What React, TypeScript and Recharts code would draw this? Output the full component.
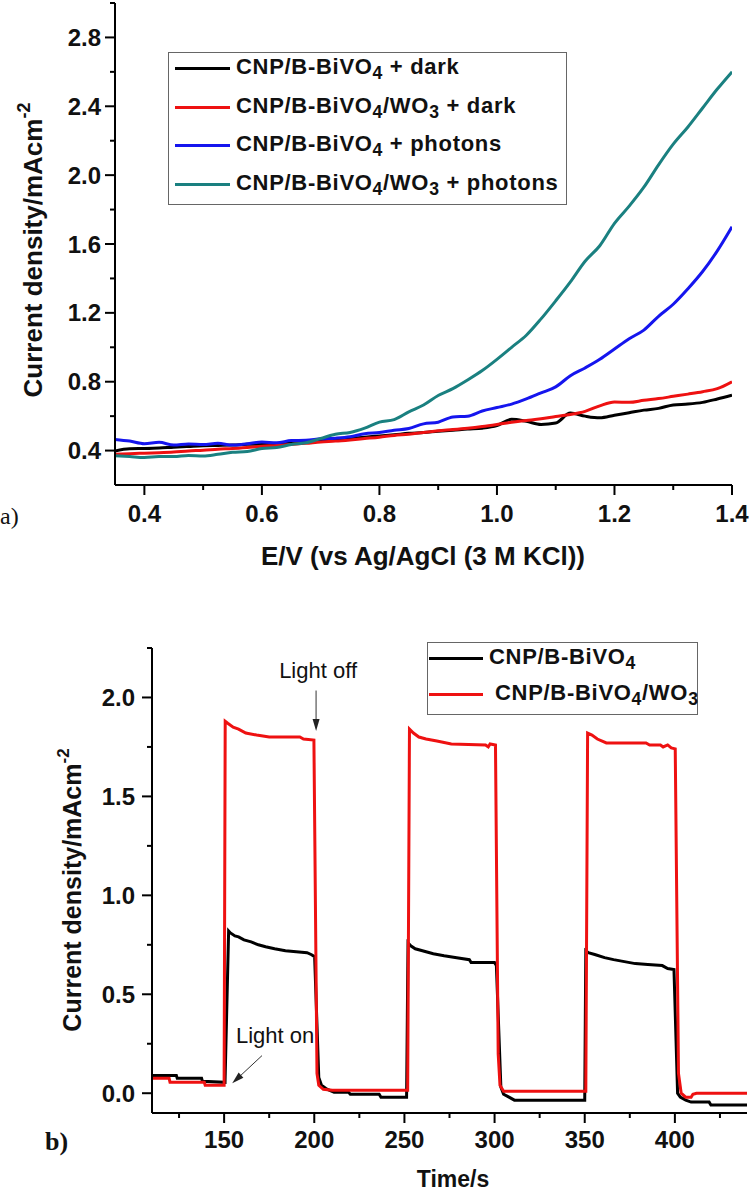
// Photoelectrochemistry figure: (a) LSV curves, (b) chopped-light transient photocurrent
import React from "react";
import { LineChart, Line, XAxis, YAxis, Legend, ReferenceLine } from "recharts";

const FONT = "'Liberation Sans', Arial, sans-serif";
const SERIF = "'Liberation Serif', 'Times New Roman', serif";

// ---- panel a: current density vs potential ----
const potential = [
  0.35, 0.375, 0.4, 0.425, 0.45, 0.475, 0.5, 0.525, 0.55, 0.575, 0.6, 0.625, 0.65, 0.675, 0.7,
  0.725, 0.75, 0.775, 0.8, 0.825, 0.85, 0.875, 0.9, 0.925, 0.95, 0.975, 1.0, 1.025, 1.05, 1.075,
  1.1, 1.125, 1.15, 1.175, 1.2, 1.225, 1.25, 1.275, 1.3, 1.325, 1.35, 1.375, 1.4,
];
const darkBiVO4 = [
  0.398, 0.41, 0.412, 0.415, 0.42, 0.424, 0.428, 0.43, 0.432, 0.436, 0.438, 0.44, 0.446, 0.452, 0.458,
  0.465, 0.47, 0.478, 0.485, 0.492, 0.5, 0.505, 0.512, 0.518, 0.525, 0.53, 0.545, 0.582, 0.57, 0.552,
  0.56, 0.618, 0.6, 0.59, 0.605, 0.62, 0.635, 0.645, 0.665, 0.67, 0.68, 0.7, 0.722,
];
const darkBiVO4WO3 = [
  0.378, 0.382, 0.385, 0.388, 0.392, 0.398, 0.402, 0.408, 0.412, 0.418, 0.425, 0.43, 0.436, 0.442, 0.45,
  0.455, 0.462, 0.47, 0.478, 0.488, 0.495, 0.505, 0.515, 0.522, 0.53, 0.54, 0.552, 0.565, 0.575, 0.585,
  0.598, 0.61, 0.628, 0.66, 0.682, 0.68, 0.692, 0.702, 0.715, 0.728, 0.742, 0.76, 0.8,
];
const lightBiVO4 = [
  0.465, 0.455, 0.44, 0.448, 0.432, 0.438, 0.435, 0.442, 0.432, 0.44, 0.45, 0.445, 0.458, 0.46, 0.468,
  0.472, 0.48, 0.498, 0.505, 0.518, 0.528, 0.555, 0.565, 0.595, 0.6, 0.63, 0.65, 0.67, 0.7, 0.735,
  0.77, 0.835, 0.88, 0.93, 0.99, 1.05, 1.1, 1.18, 1.25, 1.34, 1.44, 1.56, 1.7,
];
const lightBiVO4WO3 = [
  0.37, 0.365, 0.36, 0.365, 0.365, 0.372, 0.368, 0.378, 0.39, 0.395, 0.412, 0.418, 0.435, 0.445, 0.47,
  0.495, 0.505, 0.53, 0.565, 0.58, 0.625, 0.665, 0.72, 0.76, 0.81, 0.865, 0.93, 1.0, 1.07, 1.165,
  1.27, 1.38, 1.5, 1.59, 1.72, 1.82, 1.93, 2.06, 2.18, 2.28, 2.39, 2.5, 2.6,
];
const lsvNames = ["CNP/B-BiVO4 + dark", "CNP/B-BiVO4/WO3 + dark", "CNP/B-BiVO4 + photons", "CNP/B-BiVO4/WO3 + photons"];
const lsvXTicks = [0.4, 0.5, 0.6, 0.7, 0.8, 0.9, 1.0, 1.1, 1.2, 1.3, 1.4];
const lsvXMajor = [0.4, 0.6, 0.8, 1.0, 1.2, 1.4];
const lsvYTicks = [0.4, 0.6, 0.8, 1.0, 1.2, 1.4, 1.6, 1.8, 2.0, 2.2, 2.4, 2.6, 2.8, 3.0];
const lsvYMajor = [0.4, 0.8, 1.2, 1.6, 2.0, 2.4, 2.8];

// ---- panel b: transient photocurrent ----
const timeBiVO4 = [
  110, 123.5, 124, 137.5, 138, 150.5, 152.5, 153.5, 156, 158, 161, 165, 169, 173, 178, 184, 190, 196, 198.5, 200.2,
  202.5, 204, 207, 211, 219, 220, 236, 237, 251.2, 252, 253.5, 256, 260, 266, 272, 279, 286, 287, 300, 301,
  303.5, 305, 308, 311, 350, 350.6, 352, 356, 361, 366, 372, 378, 385, 393, 396, 399.5, 401.5, 403, 406, 409,
  419, 420, 440,
];
const currentBiVO4 = [
  0.09, 0.09, 0.075, 0.075, 0.06, 0.055, 0.82, 0.81, 0.795, 0.79, 0.775, 0.765, 0.75, 0.74, 0.73, 0.72, 0.715, 0.71, 0.7, 0.69,
  0.08, 0.04, 0.02, 0.005, 0.005, -0.005, -0.005, -0.02, -0.02, 0.76, 0.745, 0.73, 0.72, 0.705, 0.695, 0.685, 0.675, 0.66, 0.66, 0.645,
  0.03, -0.005, -0.02, -0.035, -0.035, 0.72, 0.71, 0.7, 0.685, 0.675, 0.665, 0.655, 0.65, 0.645, 0.63, 0.625, 0.0, -0.02, -0.035, -0.045,
  -0.045, -0.06, -0.06,
];
const timeBiVO4WO3 = [
  110, 119.5, 120, 139, 139.5, 150, 150.6, 152, 155, 158, 162, 168, 175, 192, 194, 199.8, 201.5, 202.5, 205, 210,
  251.8, 252.8, 255, 258, 262, 268, 276, 295, 296.5, 297.5, 300.5, 302, 303, 305, 350.6, 351.6, 354, 357, 362, 384,
  386, 392, 393.5, 396, 398, 400.2, 402, 403.5, 406, 409, 410, 412, 440,
];
const currentBiVO4WO3 = [
  0.075, 0.075, 0.055, 0.055, 0.04, 0.04, 1.88, 1.87, 1.85, 1.84, 1.82, 1.81, 1.8, 1.8, 1.79, 1.785, 0.1, 0.04, 0.02, 0.015,
  0.015, 1.84, 1.82, 1.8, 1.79, 1.78, 1.765, 1.76, 1.75, 1.765, 1.76, 0.2, 0.04, 0.01, 0.01, 1.82, 1.81, 1.79, 1.77, 1.77,
  1.76, 1.76, 1.75, 1.76, 1.745, 1.74, 0.1, 0.0, -0.02, -0.02, -0.005, 0.0, 0.0,
];
const itNames = ["CNP/B-BiVO4", "CNP/B-BiVO4/WO3"];
const itXTicks = [125, 150, 175, 200, 225, 250, 275, 300, 325, 350, 375, 400, 425];
const itXMajor = [150, 200, 250, 300, 350, 400];
const itYTicks = [0, 0.25, 0.5, 0.75, 1.0, 1.25, 1.5, 1.75, 2.0, 2.25];
const itYMajor = [0, 0.5, 1.0, 1.5, 2.0];

const lsvData = potential.map((x, i) => ({
  x,
  darkBiVO4: darkBiVO4[i],
  darkBiVO4WO3: darkBiVO4WO3[i],
  lightBiVO4: lightBiVO4[i],
  lightBiVO4WO3: lightBiVO4WO3[i],
}));
const itBiVO4 = timeBiVO4.map((t, i) => ({ t, v: currentBiVO4[i] }));
const itBiVO4WO3 = timeBiVO4WO3.map((t, i) => ({ t, v: currentBiVO4WO3[i] }));

const isMajor = (list: number[], v: number) => list.some((m) => Math.abs(m - v) < 1e-6);

// ticks drawn by hand so minor ticks get no label (origin style)
const XTick = (p: any) => {
  const { x, y, payload, majors, gap, size } = p;
  const axisY = y - 16;
  const major = isMajor(majors, payload.value);
  return (
    <g>
      <line x1={x} x2={x} y1={axisY} y2={axisY + (major ? 10 : 5)} stroke="#000" strokeWidth={2} />
      {major && (
        <text x={x} y={axisY + gap} textAnchor="middle" fontFamily={FONT} fontWeight="bold" fontSize={size} fill="#111">
          {p.fmt(payload.value)}
        </text>
      )}
    </g>
  );
};

const YTick = (p: any) => {
  const { x, y, payload, majors, gap, size } = p;
  const axisX = x + 16;
  const major = isMajor(majors, payload.value);
  return (
    <g>
      <line x1={axisX - (major ? 10 : 5)} x2={axisX} y1={y} y2={y} stroke="#000" strokeWidth={2} />
      {major && (
        <text x={axisX - gap} y={y + 8.5} textAnchor="end" fontFamily={FONT} fontWeight="bold" fontSize={size} fill="#111">
          {payload.value.toFixed(1)}
        </text>
      )}
    </g>
  );
};

const withSubs = (name: string) =>
  name.split(/(\d)/).map((s, i) =>
    i % 2 ? (
      <sub key={i} style={{ fontSize: "0.8em", verticalAlign: "-0.3em" }}>{s}</sub>
    ) : (
      <span key={i}>{s}</span>
    )
  );

const makeLegend = (rowTop: number, rowGap: number, lineLeft: number, lineW: number, textLeft: number, indent: number[]) =>
  (props: any) => (
    <div style={{ position: "relative", width: "100%", height: "100%", border: "1px solid #666", boxSizing: "border-box", background: "#fff" }}>
      {props.payload.map((e: any, i: number) => (
        <div key={i} style={{ position: "absolute", left: 0, top: rowTop + i * rowGap - 15, height: 30, width: "100%" }}>
          <div style={{ position: "absolute", left: lineLeft, top: 14, width: lineW, height: 3, background: e.color }} />
          <div style={{ position: "absolute", left: textLeft + (indent[i] || 0), top: -1, lineHeight: "30px", whiteSpace: "nowrap", fontFamily: FONT, fontWeight: "bold", fontSize: 22, letterSpacing: 0.7, color: "#111" }}>
            {withSubs(e.value)}
          </div>
        </div>
      ))}
    </div>
  );

const arrowShape = (label: string, dx: number, dy: number, anchor: "start" | "middle") => (p: any) => {
  const { x1, y1, x2, y2 } = p;
  const a = Math.atan2(y2 - y1, x2 - x1);
  const len = 12;
  const hw = 3.5;
  const bx = x2 - len * Math.cos(a);
  const by = y2 - len * Math.sin(a);
  const pts = `${x2},${y2} ${bx - hw * Math.sin(a)},${by + hw * Math.cos(a)} ${bx + hw * Math.sin(a)},${by - hw * Math.cos(a)}`;
  return (
    <g>
      <line x1={x1} y1={y1} x2={bx} y2={by} stroke="#333" strokeWidth={1} />
      <polygon points={pts} fill="#222" />
      <text x={x1 + dx} y={y1 + dy} textAnchor={anchor} fontFamily={FONT} fontSize={22} fill="#111">
        {label}
      </text>
    </g>
  );
};

const axisStyle = { stroke: "#000", strokeWidth: 2 };

export default function App() {
  return (
    <div style={{ position: "absolute", left: 0, top: 0, width: 750, height: 1193, background: "#fff", overflow: "hidden" }}>
      <div style={{ position: "absolute", left: 0, top: 0 }}>
        <LineChart width={750} height={580} data={lsvData} margin={{ top: 3, right: 18, left: 0, bottom: 0 }}>
          <XAxis
            dataKey="x" type="number" domain={[0.35, 1.4]} ticks={lsvXTicks} interval={0} allowDataOverflow
            height={95} tickSize={10} tickMargin={6} tickLine={false} axisLine={axisStyle}
            tick={(p: any) => <XTick {...p} majors={lsvXMajor} gap={37} size={24} fmt={(v: number) => v.toFixed(1)} />}
          />
          <YAxis
            type="number" domain={[0.2, 3.0]} ticks={lsvYTicks} interval={0} allowDataOverflow
            width={115} tickSize={10} tickMargin={6} tickLine={false} axisLine={axisStyle}
            tick={(p: any) => <YTick {...p} majors={lsvYMajor} gap={14} size={24} />}
          />
          <Legend
            layout="horizontal" verticalAlign="middle" align="center"
            itemSorter={(item: any) => lsvNames.indexOf(item.value)}
            wrapperStyle={{ position: "absolute", left: 168, top: 52, width: 399, height: 153 }}
            content={makeLegend(15, 38.6, 6, 55, 67, [])}
          />
          <Line type="monotone" dataKey="darkBiVO4" name={lsvNames[0]} stroke="#000000" strokeWidth={3} dot={false} isAnimationActive={false} />
          <Line type="monotone" dataKey="darkBiVO4WO3" name={lsvNames[1]} stroke="#ee1111" strokeWidth={3} dot={false} isAnimationActive={false} />
          <Line type="monotone" dataKey="lightBiVO4" name={lsvNames[2]} stroke="#1515ee" strokeWidth={3} dot={false} isAnimationActive={false} />
          <Line type="monotone" dataKey="lightBiVO4WO3" name={lsvNames[3]} stroke="#1a8080" strokeWidth={3} dot={false} isAnimationActive={false} />
        </LineChart>
      </div>

      <div style={{ position: "absolute", left: 0, top: 600 }}>
        <LineChart width={750} height={593} margin={{ top: 48, right: 3, left: 0, bottom: 0 }}>
          <XAxis
            dataKey="t" type="number" domain={[110, 440]} ticks={itXTicks} interval={0} allowDataOverflow
            height={80} tickSize={10} tickMargin={6} tickLine={false} axisLine={axisStyle}
            tick={(p: any) => <XTick {...p} majors={itXMajor} gap={35} size={24} fmt={(v: number) => String(v)} />}
          />
          <YAxis
            type="number" domain={[-0.1, 2.25]} ticks={itYTicks} interval={0} allowDataOverflow
            width={152} tickSize={10} tickMargin={6} tickLine={false} axisLine={axisStyle}
            tick={(p: any) => <YTick {...p} majors={itYMajor} gap={17} size={24} />}
          />
          <Legend
            layout="horizontal" verticalAlign="middle" align="center"
            itemSorter={(item: any) => itNames.indexOf(item.value)}
            wrapperStyle={{ position: "absolute", left: 427, top: 42, width: 271, height: 73 }}
            content={makeLegend(15, 36, 1, 54, 61, [0, 6])}
          />
          <Line data={itBiVO4} type="linear" dataKey="v" name={itNames[0]} stroke="#000000" strokeWidth={3} dot={false} isAnimationActive={false} />
          <Line data={itBiVO4WO3} type="linear" dataKey="v" name={itNames[1]} stroke="#ee1111" strokeWidth={3} dot={false} isAnimationActive={false} />
          <ReferenceLine segment={[{ x: 201, y: 2.035 }, { x: 201, y: 1.83 }]} shape={arrowShape("Light off", 2, -13, "middle")} />
          <ReferenceLine segment={[{ x: 171, y: 0.19 }, { x: 154.5, y: 0.05 }]} shape={arrowShape("Light on", -26, -13, "start")} />
        </LineChart>
      </div>

      {/* axis titles and panel letters */}
      <svg width={750} height={1193} style={{ position: "absolute", left: 0, top: 0, pointerEvents: "none" }}>
        <text x={42} y={250} transform="rotate(-90 42 250)" textAnchor="middle" fontFamily={FONT} fontWeight="bold" fontSize={26} fill="#111">
          Current density/mAcm<tspan dy={-12} fontSize={18}>-2</tspan>
        </text>
        <text x={423} y={565} textAnchor="middle" fontFamily={FONT} fontWeight="bold" fontSize={26} fill="#111">
          E/V (vs Ag/AgCl (3 M KCl))
        </text>
        <text x={0} y={524} fontFamily={SERIF} fontSize={24} fill="#111">a)</text>

        <text x={81} y={890} transform="rotate(-90 81 890)" textAnchor="middle" fontFamily={FONT} fontWeight="bold" fontSize={25} fill="#111">
          Current density/mAcm<tspan dy={-12} fontSize={17}>-2</tspan>
        </text>
        <text x={453} y={1187} textAnchor="middle" fontFamily={FONT} fontWeight="bold" fontSize={23} fill="#111">
          Time/s
        </text>
        <text x={45} y={1150} fontFamily={SERIF} fontWeight="bold" fontSize={26} fill="#111">b)</text>
      </svg>
    </div>
  );
}
